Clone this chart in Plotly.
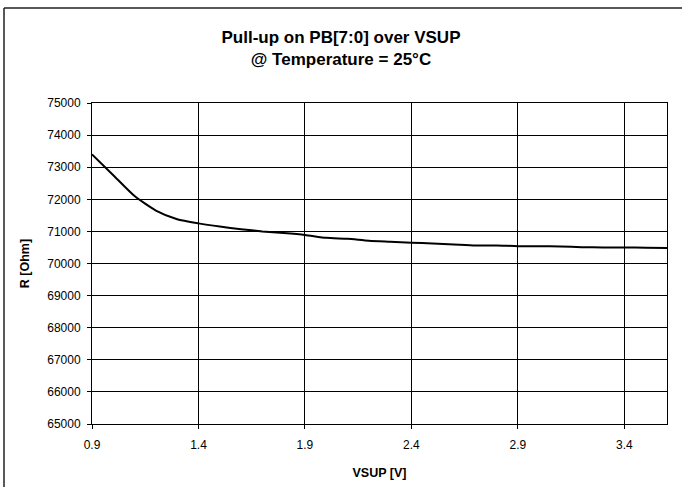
import plotly.graph_objects as go

vsup = [0.9, 1.0, 1.1, 1.2, 1.3, 1.4, 1.5, 1.6, 1.7, 1.8, 1.9, 2.0, 2.1, 2.2, 2.3,
        2.4, 2.5, 2.6, 2.7, 2.8, 2.9, 3.0, 3.1, 3.2, 3.3, 3.4, 3.5, 3.6]
r_ohm = [73400, 72750, 72100, 71650, 71380, 71250, 71150, 71070, 71000, 70950, 70890,
         70800, 70770, 70710, 70680, 70650, 70620, 70590, 70560, 70560, 70540, 70540,
         70530, 70510, 70500, 70500, 70490, 70480]
x_ticks = [0.9, 1.4, 1.9, 2.4, 2.9, 3.4]
y_ticks = [65000, 66000, 67000, 68000, 69000, 70000, 71000, 72000, 73000, 74000, 75000]

W, H = 682, 487
L, R, T, B = 92, 15, 103, 63
pw, ph = W - L - R, H - T - B

fig = go.Figure()
fig.add_trace(go.Scatter(x=vsup, y=r_ohm, mode="lines",
                         line=dict(color="black", width=2, shape="spline", smoothing=0.6),
                         showlegend=False))

font = dict(family="Liberation Sans, Arial, sans-serif", color="black")
fig.update_layout(
    width=W, height=H,
    margin=dict(l=L, r=R, t=T, b=B, autoexpand=False),
    paper_bgcolor="white", plot_bgcolor="white",
    font=font,
    title=dict(text="<b>Pull-up on PB[7:0] over VSUP<br>@ Temperature = 25°C</b>",
               x=0.5, xanchor="center", y=1 - 42.5 / H, yanchor="middle",
               font=dict(size=17, **font)),
    xaxis=dict(range=[0.9, 3.6], tickvals=x_ticks, ticktext=[f"{v:g}" for v in x_ticks],
               showgrid=True, gridcolor="black", gridwidth=1,
               showline=True, linecolor="black", linewidth=1, mirror=True,
               ticks="outside", ticklen=4, tickcolor="black", automargin=False,
               ticklabelstandoff=6,
               tickfont=dict(size=12, **font), zeroline=False,
               title=dict(text="<b>VSUP [V]</b>", font=dict(size=12.5, **font), standoff=16)),
    yaxis=dict(range=[65000, 75000], tickvals=y_ticks, ticktext=[str(v) for v in y_ticks],
               showgrid=True, gridcolor="black", gridwidth=1,
               showline=True, linecolor="black", linewidth=1, mirror=True,
               ticks="outside", ticklen=4, tickcolor="black", automargin=False,
               ticklabelstandoff=4,
               tickfont=dict(size=12, **font), zeroline=False,
               title=dict(text="<b>R [Ohm]</b>", font=dict(size=12.5, **font), standoff=14)),
)

# outer chart frame (only left and top edges visible in the reference)
bx0 = (4 - L) / pw
by1 = ((H - B) - 8) / ph
fig.add_shape(type="line", xref="paper", yref="paper",
              x0=bx0, x1=bx0, y0=-B / ph, y1=by1,
              line=dict(color="#222222", width=1.5))
fig.add_shape(type="line", xref="paper", yref="paper",
              x0=bx0, x1=(W - L) / pw, y0=by1, y1=by1,
              line=dict(color="#222222", width=1.5))

fig.write_html("out.html", config={"displayModeBar": False},
               post_script="document.body.style.margin='0';document.body.style.padding='0';document.body.style.overflow='hidden';")
